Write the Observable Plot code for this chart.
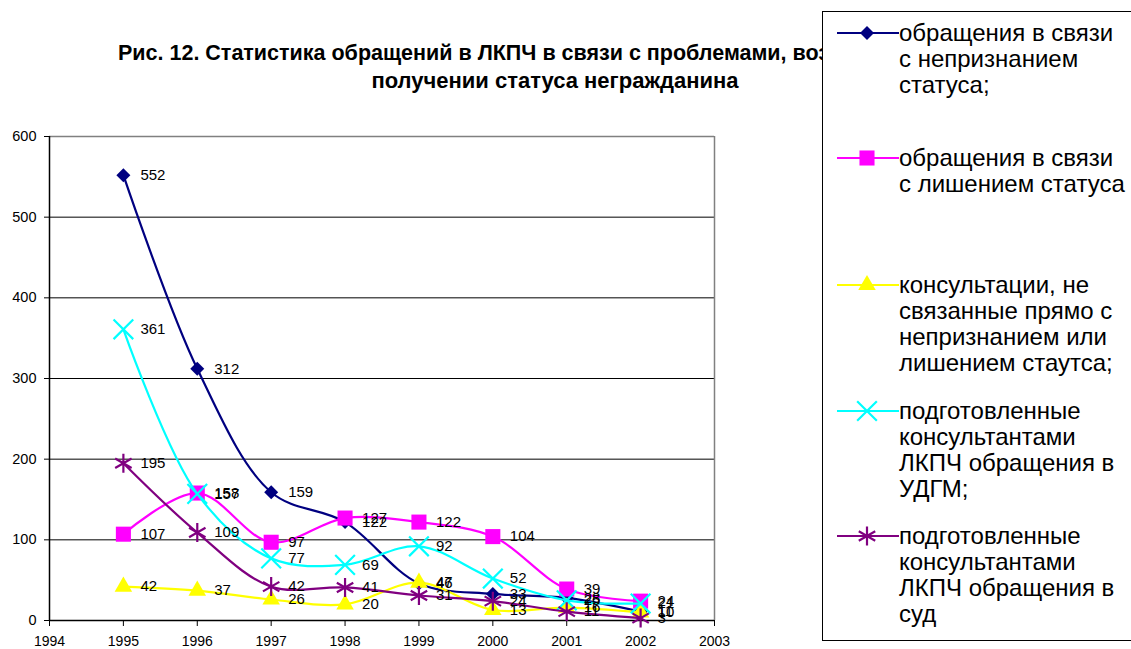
<!DOCTYPE html>
<html>
<head>
<meta charset="utf-8">
<script src="https://cdn.jsdelivr.net/npm/d3@7"></script>
<script src="https://cdn.jsdelivr.net/npm/@observablehq/plot@0.6"></script>
<style>
  html, body { margin: 0; padding: 0; background: #fff; }
  body { width: 1131px; height: 649px; position: relative; overflow: hidden; font-family: "Liberation Sans", Arial, sans-serif; }
  #chart { position: absolute; left: 0; top: 0; }
  .title { position: absolute; font-weight: bold; font-size: 21.5px; line-height: 27px; color: #000; white-space: nowrap; }
  #title1 { left: 118px; top: 40px; }
  #title2 { left: 55px; top: 67px; width: 1000px; text-align: center; font-size: 22px; }
  #legend { position: absolute; left: 822px; top: 11px; width: 330px; height: 628px; border: 1px solid #000; background: #fff; }
  .entry { position: absolute; left: 0; }
  .entry svg { position: absolute; left: 0; top: 0; overflow: visible; }
  .entry .txt { position: absolute; left: 76px; top: 0; font-size: 24px; line-height: 26px; white-space: nowrap; color: #000; }
</style>
</head>
<body>
<div id="chart"></div>
<div class="title" id="title1">Рис. 12. Статистика обращений в ЛКПЧ в связи с проблемами, возникающими при</div>
<div class="title" id="title2">получении статуса негражданина</div>
<div id="legend"></div>
<script>
const years = [1995, 1996, 1997, 1998, 1999, 2000, 2001, 2002];
const nonRecognition = [552, 312, 159, 122, 46, 33, 28, 11];
const deprivation   = [107, 158, 97, 127, 122, 104, 39, 24];
const consultations = [42, 37, 26, 20, 47, 13, 16, 10];
const udgm          = [361, 157, 77, 69, 92, 52, 25, 21];
const court         = [195, 109, 42, 41, 31, 24, 11, 3];

const seriesNames = [
  ["обращения в связи", "с непризнанием", "статуса;"],
  ["обращения в связи", "с лишением статуса"],
  ["консультации, не", "связанные прямо с", "непризнанием или", "лишением стаутса;"],
  ["подготовленные", "консультантами", "ЛКПЧ обращения в", "УДГМ;"],
  ["подготовленные", "консультантами", "ЛКПЧ обращения в", "суд"]
];
const seriesValues = [nonRecognition, deprivation, consultations, udgm, court];
const seriesColors = ["#000080", "#FF00FF", "#FFFF00", "#00FFFF", "#800080"];
const seriesSymbols = ["diamond2", "square", "triangle", "times", "asterisk"];
const seriesFilled = [true, true, true, false, false];
const seriesR = [6.3, 8.5, 6.5, 9, 9];
const xTicks = [1994, 1995, 1996, 1997, 1998, 1999, 2000, 2001, 2002, 2003];
const yTicks = [0, 100, 200, 300, 400, 500, 600];

const tables = seriesValues.map((vals, i) => years.map((y, j) => ({year: y, value: vals[j], series: i})));

const marks = [
  Plot.ruleY([100, 200, 300, 400, 500], {stroke: "#000", strokeWidth: 1}),
  Plot.ruleY([600], {stroke: "#808080", strokeWidth: 1.5}),
  Plot.ruleX([2003], {y1: 0, y2: 600, stroke: "#808080", strokeWidth: 1.5}),
  Plot.axisY({ticks: yTicks, tickSize: 5, tickFormat: () => "", label: null}),
  Plot.axisX({ticks: xTicks, tickSize: 6, tickFormat: () => "", label: null}),
  Plot.text(yTicks, {x: 1994, y: d => d, text: d => String(d), dx: -13, textAnchor: "end", fontSize: 14.5, fill: "#000"}),
  Plot.text(xTicks, {x: d => d, y: 0, text: d => String(d), dy: 21, textAnchor: "middle", fontSize: 14, fill: "#000"}),
  Plot.ruleX([1994], {y1: 0, y2: 600, stroke: "#000", strokeWidth: 1.5}),
  Plot.ruleY([0], {stroke: "#000", strokeWidth: 1.5})
];
tables.forEach((t, i) => {
  marks.push(Plot.line(t, {x: "year", y: "value", stroke: seriesColors[i], strokeWidth: 2.2, curve: "catmull-rom"}));
  marks.push(Plot.dot(t, {
    x: "year", y: "value", symbol: seriesSymbols[i], r: seriesR[i],
    fill: seriesFilled[i] ? seriesColors[i] : "none",
    stroke: seriesColors[i], strokeWidth: seriesFilled[i] ? 0 : 2.2
  }));
});
tables.forEach((t, i) => {
  marks.push(Plot.text(t, {x: "year", y: "value", text: d => String(d.value), dx: 17, textAnchor: "start", fontSize: 15, fill: "#000"}));
});

const chart = Plot.plot({
  width: 1131,
  height: 649,
  marginLeft: 49,
  marginRight: 417,
  marginTop: 136,
  marginBottom: 29,
  style: {fontFamily: "'Liberation Sans', Arial, sans-serif", fontSize: "13px", background: "#fff", color: "#000", overflow: "visible"},
  x: {domain: [1994, 2003], axis: null},
  y: {domain: [0, 600], axis: null},
  marks
});
document.getElementById("chart").appendChild(chart);

// Legend
const legend = document.getElementById("legend");
const entryCenters = [21, 146, 273, 399, 524];
const symMap = {diamond2: d3.symbolDiamond2, square: d3.symbolSquare, triangle: d3.symbolTriangle, times: d3.symbolTimes, asterisk: d3.symbolAsterisk};
seriesNames.forEach((lines, i) => {
  const e = document.createElement("div");
  e.className = "entry";
  e.style.top = (entryCenters[i] - 13) + "px";
  const svg = d3.create("svg").attr("width", 80).attr("height", 26);
  svg.append("line").attr("x1", 14).attr("x2", 76).attr("y1", 13).attr("y2", 13)
    .attr("stroke", seriesColors[i]).attr("stroke-width", 2.2);
  const size = Math.PI * seriesR[i] * seriesR[i];
  svg.append("path").attr("d", d3.symbol(symMap[seriesSymbols[i]], size)())
    .attr("transform", "translate(44,13)")
    .attr("fill", seriesFilled[i] ? seriesColors[i] : "none")
    .attr("stroke", seriesFilled[i] ? "none" : seriesColors[i])
    .attr("stroke-width", 2.2);
  e.appendChild(svg.node());
  const txt = document.createElement("div");
  txt.className = "txt";
  txt.innerHTML = lines.join("<br>");
  e.appendChild(txt);
  legend.appendChild(e);
});
</script>
</body>
</html>
